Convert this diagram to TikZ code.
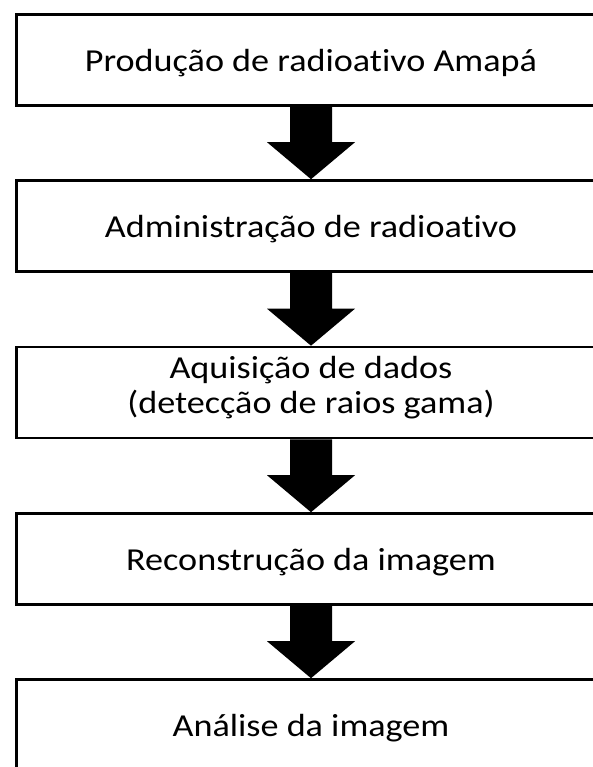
\documentclass[tikz,border=0pt]{standalone}
\usepackage{fontspec}
\setmainfont[FakeStretch=1.13, Ligatures=CommonOff]{Carlito}
\usetikzlibrary{calc}

\tikzset{
  stagebox/.style={draw, line width=2.6pt, rectangle, minimum width=589pt, minimum height=91pt,
                   align=center, text depth=0pt, font=\fontsize{32}{35}\selectfont},
}

% block arrow from the bottom of one box to the top of the next
\newcommand{\blockarrow}[2]{%
  \fill ($(#1.south)+(-21,0)$) -- ($(#2.north)+(-21,-37)$) -- ($(#2.north)+(-44,-37)$) -- (#2.north)
        -- ($(#2.north)+(44,-37)$) -- ($(#2.north)+(21,-37)$) -- ($(#1.south)+(21,0)$) -- cycle;}

\begin{document}
\begin{tikzpicture}[x=1pt, y=-1pt]

        \useasboundingbox (0,0) rectangle (593,767);
        \clip (0,0) rectangle (593,767);

        %Production
        \node [stagebox] (prod) at (311,60) {Produção de radioativo Amapá};

        %Administration
        \node [stagebox] (admin) at (311,226) {Administração de radioativo};

        %Acquisition
        \node [stagebox, text depth=16pt] (acq) at (311,392.5) {Aquisição de dados\\(detecção de raios gama)};

        %Reconstruction
        \node [stagebox] (recon) at (311,559) {Reconstrução da imagem};

        %Analysis
        \node [stagebox] (anal) at (311,725) {Análise da imagem};

        %Arrows
        \blockarrow{prod}{admin}
        \blockarrow{admin}{acq}
        \blockarrow{acq}{recon}
        \blockarrow{recon}{anal}

\end{tikzpicture}
\end{document}
